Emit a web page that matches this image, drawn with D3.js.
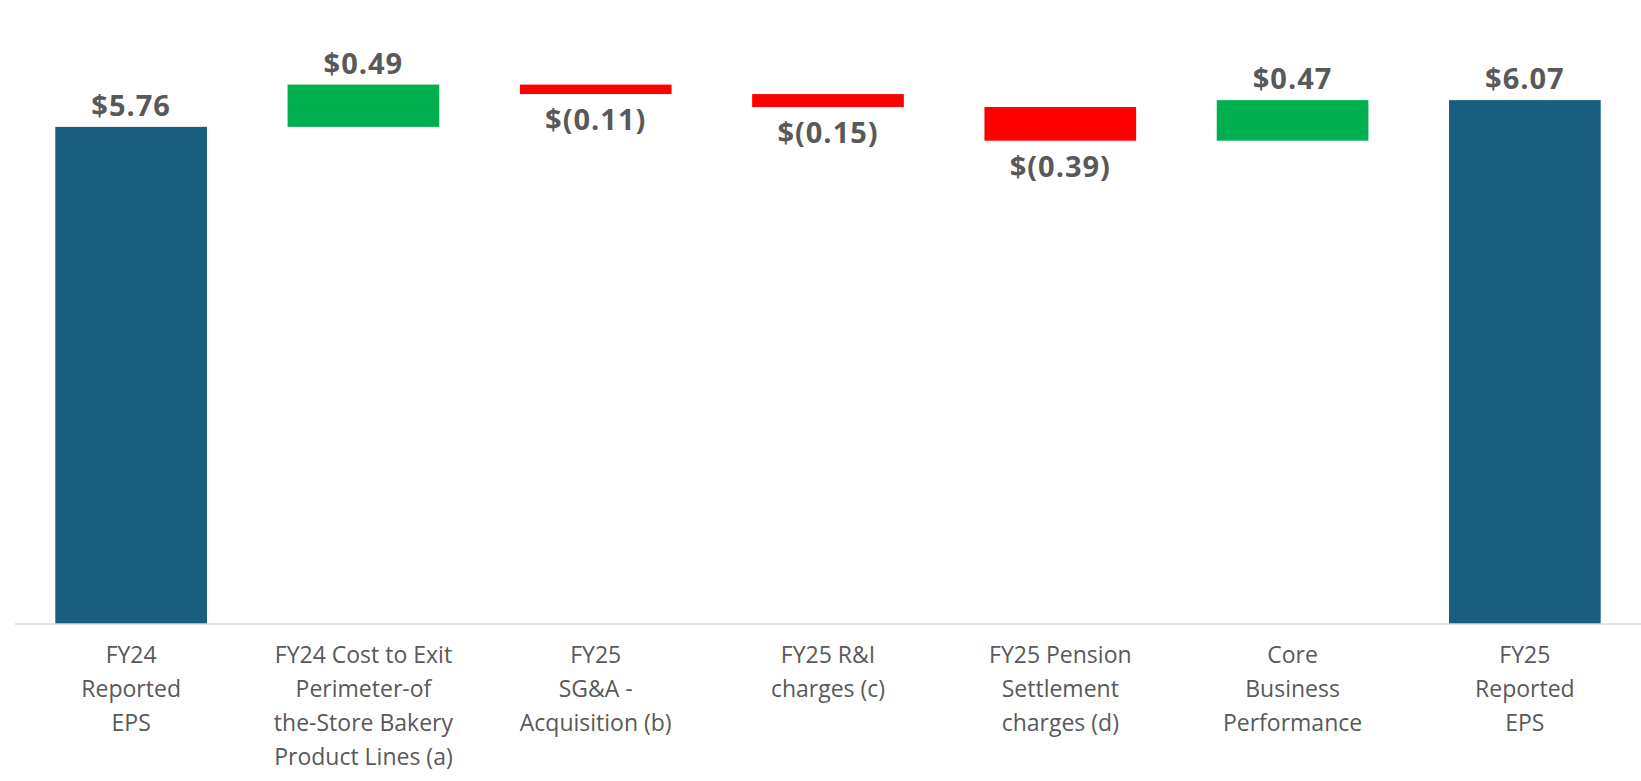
<!DOCTYPE html>
<html>
<head>
<meta charset="utf-8">
<script src="https://cdn.jsdelivr.net/npm/d3@7"></script>
<style>
  html, body { margin: 0; padding: 0; background: #fff; }
  svg { display: block; }
  .domain { stroke: #d9d9d9; stroke-width: 1.5; }
</style>
</head>
<body>
<div id="chart"></div>
<script>
'use strict'

// categories, one line per array entry
const categories = [
  ['FY24', 'Reported', 'EPS'],
  ['FY24 Cost to Exit', 'Perimeter-of', 'the-Store Bakery', 'Product Lines (a)'],
  ['FY25', 'SG&A -', 'Acquisition (b)'],
  ['FY25 R&I', 'charges (c)'],
  ['FY25 Pension', 'Settlement', 'charges (d)'],
  ['Core', 'Business', 'Performance'],
  ['FY25', 'Reported', 'EPS']
]
// change of each step; the first and last are totals
const deltas = [5.76, 0.49, -0.11, -0.15, -0.39, 0.47, 6.07]
const kinds = ['total', 'step', 'step', 'step', 'step', 'step', 'total']
const yMax = 7.23

let width = 1641
let height = 781
let axisY = 624

let colors = { total: '#175e80', up: '#00b050', down: '#ff0000' }

// build waterfall segments
let running = 0
let bars = deltas.map(function (d, i) {
  let start, end
  if (kinds[i] === 'total') { start = 0; end = d; running = d }
  else { start = running; end = running + d; running = end }
  return { i: i, value: d, start: start, end: end, kind: kinds[i] }
})

let svg = d3.select('#chart').append('svg')
  .attr('width', width)
  .attr('height', height)

let x = d3.scaleBand()
  .domain(d3.range(categories.length))
  .range([15, 1641])
  .paddingInner(0.347)
  .paddingOuter(0.1735)

let y = d3.scaleLinear()
  .domain([0, yMax])
  .range([axisY, 0])

function barColor(d) {
  if (d.kind === 'total') return colors.total
  return d.value >= 0 ? colors.up : colors.down
}

svg.selectAll('rect.bar')
  .data(bars)
  .enter()
  .append('rect')
  .attr('class', 'bar')
  .attr('x', d => x(d.i))
  .attr('width', x.bandwidth())
  .attr('y', d => y(Math.max(d.start, d.end)))
  .attr('height', d => Math.abs(y(d.start) - y(d.end)))
  .style('fill', barColor)

function fmt(v) {
  let s = '$' + Math.abs(v).toFixed(2)
  return v < 0 ? '$(' + Math.abs(v).toFixed(2) + ')' : s
}

svg.selectAll('text.val')
  .data(bars)
  .enter()
  .append('text')
  .attr('class', 'val')
  .attr('x', d => x(d.i) + x.bandwidth() / 2)
  .attr('y', function (d) {
    if (d.value < 0) return y(Math.min(d.start, d.end)) + 36
    return y(Math.max(d.start, d.end)) - 11
  })
  .attr('text-anchor', 'middle')
  .style('font-family', '"Open Sans", sans-serif')
  .style('font-weight', 700)
  .style('font-size', '29px')
  .style('letter-spacing', '1px')
  .style('fill', '#595959')
  .text(d => fmt(d.value))

// x axis with multi-line labels
let xAxis = d3.axisBottom(x).tickSize(0).tickFormat('')
let gx = svg.append('g')
  .attr('transform', 'translate(0,' + axisY + ')')
  .call(xAxis)
gx.select('.domain').attr('d', 'M15,0H1641')

gx.selectAll('.tick text').each(function (d) {
  let t = d3.select(this)
  t.attr('y', 0).attr('dy', null)
    .style('font-family', '"Open Sans", sans-serif')
    .style('font-size', '23px')
    .style('fill', '#595959')
  categories[d].forEach(function (line, k) {
    t.append('tspan')
      .attr('x', 0)
      .attr('y', 39 + k * 34)
      .text(line)
  })
})
</script>
</body>
</html>
